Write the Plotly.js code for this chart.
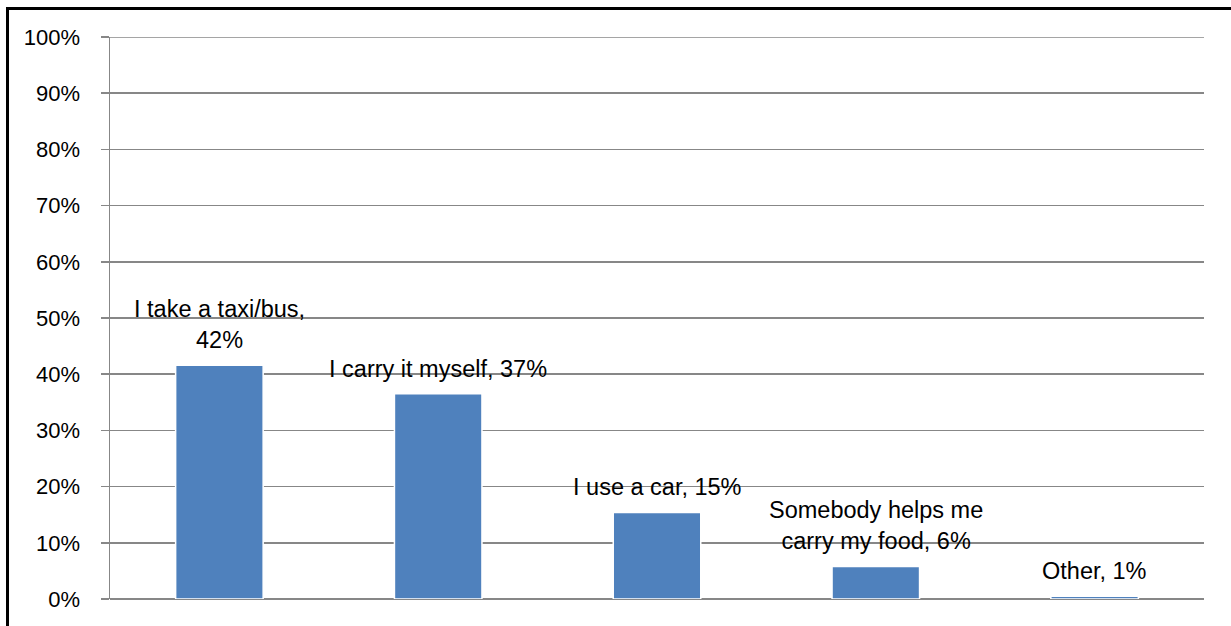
<!DOCTYPE html>
<html>
<head>
<meta charset="utf-8">
<script src="https://cdn.plot.ly/plotly-3.0.1.min.js"></script>
<style>
  html, body { margin: 0; padding: 0; background: #fff; }
  #wrap { position: relative; width: 1231px; height: 626px; overflow: hidden; }
  #chart { width: 1231px; height: 626px; }
  #frame { position: absolute; left: 6px; top: 7px; width: 1240px; height: 640px;
           border-left: 3px solid #000; border-top: 3px solid #000; pointer-events: none; }
</style>
</head>
<body>
<div id="wrap">
  <div id="chart"></div>
  <div id="frame"></div>
</div>
<script>
// Data
const categories = ["I take a taxi/bus", "I carry it myself", "I use a car", "Somebody helps me carry my food", "Other"];
const values = [0.416, 0.365, 0.154, 0.058, 0.005];
const labels = ["I take a taxi/bus,<br>42%", "I carry it myself, 37%", "I use a car, 15%", "Somebody helps me<br>carry my food, 6%", "Other, 1%"];
const yTickVals = [0, 0.1, 0.2, 0.3, 0.4, 0.5, 0.6, 0.7, 0.8, 0.9, 1.0];
const yTickText = ["0%", "10%", "20%", "30%", "40%", "50%", "60%", "70%", "80%", "90%", "100%"];

const FONT = "Liberation Sans, Arial, sans-serif";
const GRID = "#878787";

const trace = {
  type: "bar",
  x: categories,
  y: values,
  marker: { color: "#4F81BD", line: { color: "#ffffff", width: 1.5 } },
  hoverinfo: "none"
};

const annotations = categories.map((c, i) => ({
  x: c, y: values[i], xref: "x", yref: "y",
  text: labels[i], showarrow: false,
  yanchor: "bottom", xanchor: "center", yshift: 10,
  font: { family: FONT, size: 23.5, color: "#000" }
}));

const layout = {
  width: 1231, height: 626,
  margin: { l: 110, r: 27, t: 37, b: 27, pad: 0 },
  paper_bgcolor: "#fff", plot_bgcolor: "#fff",
  showlegend: false,
  bargap: 0.6,
  font: { family: FONT, size: 22, color: "#000" },
  xaxis: {
    type: "category",
    showticklabels: false, ticks: "",
    showgrid: false, zeroline: false,
    showline: false
  },
  yaxis: {
    range: [0, 1],
    tickvals: yTickVals, ticktext: yTickText,
    ticks: "outside", ticklen: 8, tickcolor: GRID, tickwidth: 1.5,
    ticklabelstandoff: 16,
    showgrid: true, gridcolor: GRID, gridwidth: 1.5,
    zeroline: true, zerolinecolor: GRID, zerolinewidth: 1.5,
    showline: true, linecolor: GRID, linewidth: 1.5,
    tickfont: { family: FONT, size: 22, color: "#000" },
    fixedrange: true
  },
  shapes: [{
    type: "line", xref: "paper", yref: "y",
    x0: 0, x1: 1, y0: yTickVals[yTickVals.length - 1], y1: yTickVals[yTickVals.length - 1],
    line: { color: GRID, width: 1.5 }, layer: "below"
  }],
  annotations: annotations
};

Plotly.newPlot("chart", [trace], layout, { displayModeBar: false, staticPlot: true });
</script>
</body>
</html>
